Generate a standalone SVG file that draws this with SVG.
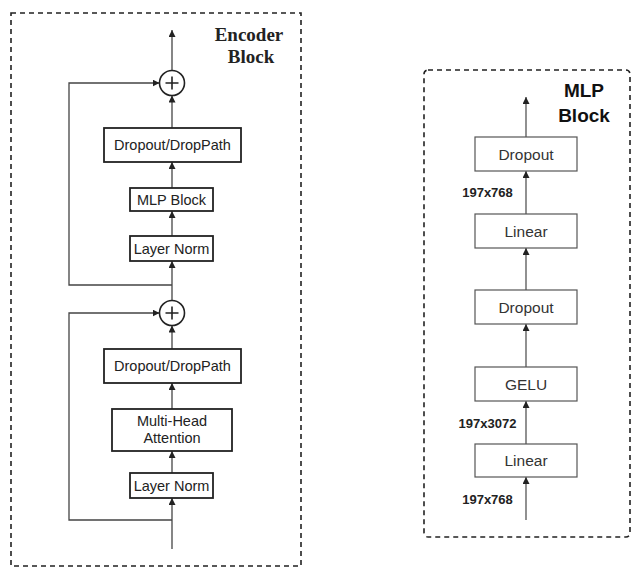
<svg xmlns="http://www.w3.org/2000/svg" width="641" height="577" viewBox="0 0 641 577">
<style>
.frame{fill:none;stroke:#222;stroke-width:1.6;stroke-dasharray:5,4}
.enc{fill:#fff;stroke:#222;stroke-width:1.8}
.mlp{fill:#fff;stroke:#555;stroke-width:1.2}
.ln{fill:none;stroke:#444;stroke-width:1.3}
.ln2{fill:none;stroke:#555;stroke-width:1.3}
.t{font-family:"Liberation Sans",Arial,sans-serif;font-size:14.5px;fill:#222;text-anchor:middle}
.tm{font-family:"Liberation Sans",Arial,sans-serif;font-size:15.5px;fill:#333;text-anchor:middle}
.dim{font-family:"Liberation Sans",Arial,sans-serif;font-size:13px;font-weight:bold;fill:#222;text-anchor:middle}
.title{font-family:"Liberation Serif","Times New Roman",serif;font-size:19px;font-weight:bold;fill:#222;text-anchor:middle}
.title2{font-family:"Liberation Sans",Arial,sans-serif;font-size:19px;font-weight:bold;fill:#111;text-anchor:middle}
</style>
<defs>
<marker id="ah" viewBox="0 0 8 8" refX="8" refY="4" markerWidth="7" markerHeight="7" markerUnits="userSpaceOnUse" orient="auto">
<path d="M0,0 L8,4 L0,8 Z" fill="#222"/>
</marker>
</defs>
<rect width="641" height="577" fill="#fff"/>

<g id="encoder-frame">
<rect class="frame" x="11" y="13" width="290" height="553"/>
<text class="title" x="249" y="41">Encoder</text>
<text class="title" x="251" y="63">Block</text>
</g>
<g id="mlp-frame">
<rect class="frame" x="424" y="70" width="206" height="467" rx="4"/>
<text class="title2" x="584" y="97">MLP</text>
<text class="title2" x="584" y="122">Block</text>
</g>

<g id="connectors">
<line class="ln" x1="172" y1="549" x2="172" y2="498" marker-end="url(#ah)"/>
<line class="ln" x1="172" y1="473" x2="172" y2="451" marker-end="url(#ah)"/>
<line class="ln" x1="172" y1="409" x2="172" y2="383" marker-end="url(#ah)"/>
<line class="ln" x1="172" y1="349" x2="172" y2="325.5" marker-end="url(#ah)"/>
<polyline class="ln" points="172,520 69,520 69,313 159.5,313" marker-end="url(#ah)"/>
<line class="ln" x1="172" y1="300.5" x2="172" y2="261" marker-end="url(#ah)"/>
<line class="ln" x1="172" y1="236" x2="172" y2="211" marker-end="url(#ah)"/>
<line class="ln" x1="172" y1="188" x2="172" y2="162" marker-end="url(#ah)"/>
<line class="ln" x1="172" y1="128" x2="172" y2="95.5" marker-end="url(#ah)"/>
<polyline class="ln" points="172,285 69,285 69,83 159.5,83" marker-end="url(#ah)"/>
<line class="ln" x1="172" y1="70.5" x2="172" y2="30" marker-end="url(#ah)"/>
<line class="ln2" x1="526" y1="520" x2="526" y2="477" marker-end="url(#ah)"/>
<line class="ln2" x1="526" y1="444" x2="526" y2="401" marker-end="url(#ah)"/>
<line class="ln2" x1="526" y1="367" x2="526" y2="324" marker-end="url(#ah)"/>
<line class="ln2" x1="526" y1="290" x2="526" y2="248" marker-end="url(#ah)"/>
<line class="ln2" x1="526" y1="214" x2="526" y2="171" marker-end="url(#ah)"/>
<line class="ln2" x1="526" y1="137" x2="526" y2="97" marker-end="url(#ah)"/>
</g>

<g id="add1">
<circle cx="172" cy="83" r="12.5" fill="#fff" stroke="#222" stroke-width="1.6"/>
<path d="M165.5,83 H178.5 M172,76.5 V89.5" stroke="#222" stroke-width="1.6"/>
</g>
<g id="add2">
<circle cx="172" cy="313" r="12.5" fill="#fff" stroke="#222" stroke-width="1.6"/>
<path d="M165.5,313 H178.5 M172,306.5 V319.5" stroke="#222" stroke-width="1.6"/>
</g>

<g id="dropout-droppath-1">
<rect class="enc" x="104" y="128" width="137" height="34"/>
<text class="t" x="172.5" y="150">Dropout/DropPath</text>
</g>
<g id="mlp-block">
<rect class="enc" x="130" y="188" width="83" height="23"/>
<text class="t" x="171.5" y="204.5">MLP Block</text>
</g>
<g id="layer-norm-1">
<rect class="enc" x="130" y="236" width="83" height="25"/>
<text class="t" x="171.5" y="253.5">Layer Norm</text>
</g>
<g id="dropout-droppath-2">
<rect class="enc" x="104" y="349" width="137" height="34"/>
<text class="t" x="172.5" y="371">Dropout/DropPath</text>
</g>
<g id="mha">
<rect class="enc" x="112" y="409" width="120" height="42"/>
<text class="t" x="172" y="426">Multi-Head</text>
<text class="t" x="172" y="443">Attention</text>
</g>
<g id="layer-norm-2">
<rect class="enc" x="130" y="473" width="83" height="25"/>
<text class="t" x="171.5" y="490.5">Layer Norm</text>
</g>

<g id="mlp-dropout-2">
<rect class="mlp" x="475" y="137" width="102" height="34"/>
<text class="tm" x="526" y="159.5">Dropout</text>
</g>
<g id="mlp-linear-2">
<rect class="mlp" x="475" y="214" width="102" height="34"/>
<text class="tm" x="526" y="236.5">Linear</text>
</g>
<g id="mlp-dropout-1">
<rect class="mlp" x="475" y="290" width="102" height="34"/>
<text class="tm" x="526" y="312.5">Dropout</text>
</g>
<g id="mlp-gelu">
<rect class="mlp" x="475" y="367" width="102" height="34"/>
<text class="tm" x="526" y="389.5">GELU</text>
</g>
<g id="mlp-linear-1">
<rect class="mlp" x="475" y="444" width="102" height="33"/>
<text class="tm" x="526" y="466">Linear</text>
</g>

<g id="dim-labels">
<text class="dim" x="487.5" y="197">197x768</text>
<text class="dim" x="487.5" y="428">197x3072</text>
<text class="dim" x="487.5" y="504">197x768</text>
</g>
</svg>
